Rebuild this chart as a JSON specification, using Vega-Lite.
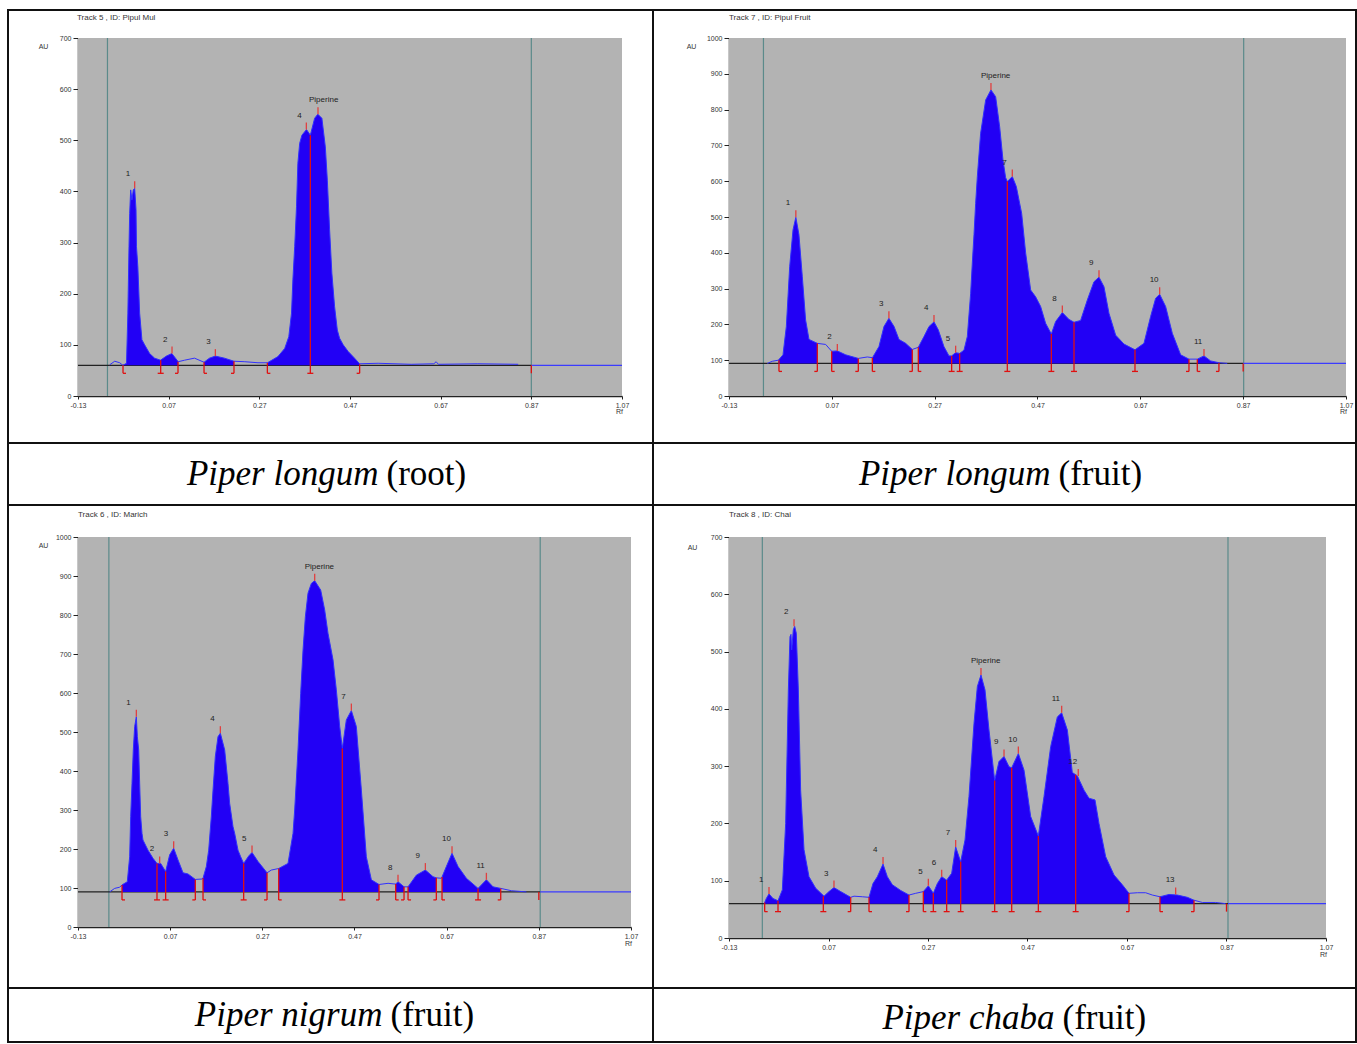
{
"$schema": "https://vega.github.io/schema/vega-lite/v6.json",
"background": "white",
"padding": {"left": 7, "top": 9, "right": 0, "bottom": 0},
"config": {"view": {"stroke": "#111", "strokeWidth": 2}, "font": "Liberation Sans"},
"datasets": {
"c1": [
{"rf":-0.060,"au":61},{"rf":-0.049,"au":68},{"rf":-0.038,"au":65},
{"rf":-0.031,"au":60,"seg":"A"},{"rf":-0.023,"au":64,"seg":"A"},{"rf":-0.020,"au":162,"seg":"A"},{"rf":-0.0175,"au":292,"seg":"A"},{"rf":-0.016,"au":357,"seg":"A"},{"rf":-0.0138,"au":403,"seg":"A"},{"rf":-0.011,"au":383,"seg":"A"},{"rf":-0.008,"au":403,"seg":"A"},{"rf":-0.005,"au":406,"seg":"A"},{"rf":-0.002,"au":364,"seg":"A"},{"rf":-0.001,"au":292,"seg":"A"},{"rf":0.002,"au":253,"seg":"A"},{"rf":0.006,"au":162,"seg":"A"},{"rf":0.011,"au":110,"seg":"A"},{"rf":0.017,"au":100,"seg":"A"},{"rf":0.028,"au":83,"seg":"A"},{"rf":0.039,"au":74,"seg":"A"},{"rf":0.052,"au":70,"seg":"A"},{"rf":0.065,"au":78,"seg":"A"},{"rf":0.077,"au":83,"seg":"A"},{"rf":0.085,"au":74,"seg":"A"},{"rf":0.091,"au":67,"seg":"A"},
{"rf":0.105,"au":70},{"rf":0.127,"au":74},
{"rf":0.148,"au":66,"seg":"B"},{"rf":0.160,"au":74,"seg":"B"},{"rf":0.173,"au":78,"seg":"B"},{"rf":0.193,"au":74,"seg":"B"},{"rf":0.214,"au":68,"seg":"B"},
{"rf":0.238,"au":67},{"rf":0.267,"au":65},
{"rf":0.288,"au":65,"seg":"C"},{"rf":0.311,"au":77,"seg":"C"},{"rf":0.326,"au":93,"seg":"C"},{"rf":0.335,"au":116,"seg":"C"},{"rf":0.341,"au":162,"seg":"C"},{"rf":0.344,"au":227,"seg":"C"},{"rf":0.348,"au":292,"seg":"C"},{"rf":0.352,"au":370,"seg":"C"},{"rf":0.355,"au":455,"seg":"C"},{"rf":0.359,"au":494,"seg":"C"},{"rf":0.364,"au":510,"seg":"C"},{"rf":0.374,"au":521,"seg":"C"},{"rf":0.3825,"au":510,"seg":"C"},{"rf":0.392,"au":543,"seg":"C"},{"rf":0.399,"au":551,"seg":"C"},{"rf":0.408,"au":543,"seg":"C"},{"rf":0.4156,"au":487,"seg":"C"},{"rf":0.420,"au":422,"seg":"C"},{"rf":0.425,"au":325,"seg":"C"},{"rf":0.430,"au":240,"seg":"C"},{"rf":0.436,"au":175,"seg":"C"},{"rf":0.442,"au":129,"seg":"C"},{"rf":0.447,"au":113,"seg":"C"},{"rf":0.455,"au":100,"seg":"C"},{"rf":0.466,"au":87,"seg":"C"},{"rf":0.480,"au":74,"seg":"C"},{"rf":0.491,"au":63,"seg":"C"},
{"rf":0.532,"au":64},{"rf":0.605,"au":62},{"rf":0.655,"au":63},{"rf":0.660,"au":67},{"rf":0.665,"au":62},{"rf":0.752,"au":63},{"rf":0.841,"au":62}
],
"b1": [
{"rf":-0.0307,"top":60,"k":"s"},{"rf":0.0524,"top":70,"k":"m"},{"rf":0.0906,"top":67,"k":"e"},{"rf":0.148,"top":66,"k":"s"},{"rf":0.2141,"top":68,"k":"e"},{"rf":0.2877,"top":65,"k":"s"},{"rf":0.3825,"top":510,"k":"m"},{"rf":0.4913,"top":62,"k":"e"},{"rf":0.87,"top":60,"k":"x"}
],
"p1": [
{"rf":-0.005,"top":406,"t":"1"},{"rf":0.0774,"top":83,"t":"2"},{"rf":0.173,"top":78,"t":"3"},{"rf":0.3737,"top":521,"t":"4"},{"rf":0.3994,"top":551,"t":"Piperine"}
],
"c2": [
{"rf":-0.0555,"au":91},{"rf":-0.0457,"au":97},
{"rf":-0.034,"au":100,"seg":"A"},{"rf":-0.025,"au":115,"seg":"A"},{"rf":-0.0185,"au":194,"seg":"A"},{"rf":-0.012,"au":361,"seg":"A"},{"rf":-0.0055,"au":464,"seg":"A"},{"rf":0.0,"au":499,"seg":"A"},{"rf":0.006,"au":451,"seg":"A"},{"rf":0.0126,"au":333,"seg":"A"},{"rf":0.019,"au":212,"seg":"A"},{"rf":0.0256,"au":158,"seg":"A"},{"rf":0.0418,"au":147,"seg":"A"},
{"rf":0.058,"au":144},
{"rf":0.0697,"au":125,"seg":"B"},{"rf":0.0807,"au":126,"seg":"B"},{"rf":0.0969,"au":115,"seg":"B"},{"rf":0.1215,"au":105,"seg":"B"},
{"rf":0.139,"au":109},
{"rf":0.149,"au":107,"seg":"C"},{"rf":0.1617,"au":138,"seg":"C"},{"rf":0.1714,"au":194,"seg":"C"},{"rf":0.181,"au":217,"seg":"C"},{"rf":0.191,"au":194,"seg":"C"},{"rf":0.2006,"au":158,"seg":"C"},{"rf":0.2136,"au":147,"seg":"C"},{"rf":0.2265,"au":130,"seg":"C"},
{"rf":0.2382,"au":136,"seg":"D"},{"rf":0.2492,"au":166,"seg":"D"},{"rf":0.259,"au":194,"seg":"D"},{"rf":0.2687,"au":207,"seg":"D"},{"rf":0.277,"au":185,"seg":"D"},{"rf":0.288,"au":138,"seg":"D"},{"rf":0.2979,"au":112,"seg":"D"},{"rf":0.303,"au":112,"seg":"D"},{"rf":0.3108,"au":121,"seg":"D"},{"rf":0.3186,"au":119,"seg":"D"},{"rf":0.327,"au":128,"seg":"D"},{"rf":0.3335,"au":166,"seg":"D"},{"rf":0.340,"au":287,"seg":"D"},{"rf":0.3432,"au":371,"seg":"D"},{"rf":0.3465,"au":451,"seg":"D"},{"rf":0.3497,"au":538,"seg":"D"},{"rf":0.353,"au":613,"seg":"D"},{"rf":0.3594,"au":734,"seg":"D"},{"rf":0.3692,"au":827,"seg":"D"},{"rf":0.3795,"au":855,"seg":"D"},{"rf":0.3886,"au":836,"seg":"D"},{"rf":0.3964,"au":752,"seg":"D"},{"rf":0.4029,"au":659,"seg":"D"},{"rf":0.408,"au":610,"seg":"D"},{"rf":0.4113,"au":599,"seg":"D"},{"rf":0.421,"au":613,"seg":"D"},{"rf":0.4288,"au":585,"seg":"D"},{"rf":0.4392,"au":510,"seg":"D"},{"rf":0.447,"au":399,"seg":"D"},{"rf":0.4567,"au":296,"seg":"D"},{"rf":0.4664,"au":277,"seg":"D"},{"rf":0.4761,"au":250,"seg":"D"},{"rf":0.4858,"au":203,"seg":"D"},{"rf":0.4969,"au":173,"seg":"D"},{"rf":0.5053,"au":208,"seg":"D"},{"rf":0.5183,"au":233,"seg":"D"},{"rf":0.5312,"au":214,"seg":"D"},{"rf":0.541,"au":206,"seg":"D"},{"rf":0.5539,"au":211,"seg":"D"},{"rf":0.5669,"au":268,"seg":"D"},{"rf":0.5798,"au":319,"seg":"D"},{"rf":0.5896,"au":332,"seg":"D"},{"rf":0.5993,"au":305,"seg":"D"},{"rf":0.609,"au":231,"seg":"D"},{"rf":0.622,"au":170,"seg":"D"},{"rf":0.6382,"au":145,"seg":"D"},{"rf":0.6596,"au":129,"seg":"D"},{"rf":0.6771,"au":147,"seg":"D"},{"rf":0.690,"au":222,"seg":"D"},{"rf":0.6998,"au":273,"seg":"D"},{"rf":0.7076,"au":284,"seg":"D"},{"rf":0.7192,"au":250,"seg":"D"},{"rf":0.7322,"au":175,"seg":"D"},{"rf":0.7484,"au":115,"seg":"D"},{"rf":0.7646,"au":103,"seg":"D"},
{"rf":0.7808,"au":103,"seg":"E"},{"rf":0.7938,"au":112,"seg":"E"},{"rf":0.8067,"au":98,"seg":"E"},{"rf":0.8229,"au":93,"seg":"E"},
{"rf":0.839,"au":91}
],
"b2": [
{"rf":-0.0328,"top":100,"k":"s"},{"rf":0.0418,"top":147,"k":"e"},{"rf":0.0697,"top":125,"k":"s"},{"rf":0.1215,"top":105,"k":"e"},{"rf":0.1488,"top":107,"k":"s"},{"rf":0.2265,"top":130,"k":"e"},{"rf":0.2382,"top":136,"k":"s"},{"rf":0.303,"top":112,"k":"m"},{"rf":0.3186,"top":119,"k":"m"},{"rf":0.4113,"top":599,"k":"m"},{"rf":0.4969,"top":173,"k":"m"},{"rf":0.541,"top":206,"k":"m"},{"rf":0.6596,"top":129,"k":"m"},{"rf":0.7646,"top":103,"k":"e"},{"rf":0.7808,"top":103,"k":"s"},{"rf":0.8229,"top":93,"k":"e"},{"rf":0.87,"top":91,"k":"x"}
],
"p2": [
{"rf":0.0,"top":499,"t":"1"},{"rf":0.0807,"top":126,"t":"2"},{"rf":0.181,"top":217,"t":"3"},{"rf":0.2687,"top":207,"t":"4"},{"rf":0.3108,"top":121,"t":"5"},{"rf":0.3795,"top":855,"t":"Piperine"},{"rf":0.421,"top":613,"t":"7"},{"rf":0.5183,"top":233,"t":"8"},{"rf":0.5896,"top":332,"t":"9"},{"rf":0.7076,"top":284,"t":"10"},{"rf":0.7938,"top":112,"t":"11"}
],
"c3": [
{"rf":-0.0613,"au":90},{"rf":-0.0504,"au":99},{"rf":-0.0396,"au":102},
{"rf":-0.0345,"au":108,"seg":"A"},{"rf":-0.023,"au":116,"seg":"A"},{"rf":-0.0179,"au":180,"seg":"A"},{"rf":-0.0157,"au":283,"seg":"A"},{"rf":-0.0128,"au":368,"seg":"A"},{"rf":-0.01,"au":454,"seg":"A"},{"rf":-0.007,"au":514,"seg":"A"},{"rf":-0.0034,"au":539,"seg":"A"},{"rf":-0.0012,"au":488,"seg":"A"},{"rf":0.0017,"au":454,"seg":"A"},{"rf":0.0038,"au":368,"seg":"A"},{"rf":0.006,"au":283,"seg":"A"},{"rf":0.0089,"au":240,"seg":"A"},{"rf":0.011,"au":223,"seg":"A"},{"rf":0.0219,"au":197,"seg":"A"},{"rf":0.0328,"au":176,"seg":"A"},{"rf":0.0414,"au":163,"seg":"A"},{"rf":0.0494,"au":163,"seg":"A"},{"rf":0.0602,"au":142,"seg":"A"},{"rf":0.0689,"au":185,"seg":"A"},{"rf":0.0776,"au":202,"seg":"A"},{"rf":0.087,"au":172,"seg":"A"},{"rf":0.0979,"au":139,"seg":"A"},{"rf":0.1087,"au":136,"seg":"A"},{"rf":0.1246,"au":122,"seg":"A"},
{"rf":0.1391,"au":123},
{"rf":0.1413,"au":125,"seg":"B"},{"rf":0.1485,"au":155,"seg":"B"},{"rf":0.1536,"au":197,"seg":"B"},{"rf":0.1593,"au":283,"seg":"B"},{"rf":0.163,"au":351,"seg":"B"},{"rf":0.168,"au":437,"seg":"B"},{"rf":0.1738,"au":488,"seg":"B"},{"rf":0.1789,"au":497,"seg":"B"},{"rf":0.1883,"au":454,"seg":"B"},{"rf":0.1955,"au":368,"seg":"B"},{"rf":0.1991,"au":317,"seg":"B"},{"rf":0.2064,"au":257,"seg":"B"},{"rf":0.21,"au":240,"seg":"B"},{"rf":0.2172,"au":197,"seg":"B"},{"rf":0.223,"au":180,"seg":"B"},{"rf":0.2295,"au":163,"seg":"B"},{"rf":0.2404,"au":182,"seg":"B"},{"rf":0.2476,"au":191,"seg":"B"},{"rf":0.2606,"au":168,"seg":"B"},{"rf":0.2802,"au":139,"seg":"B"},
{"rf":0.2896,"au":146},
{"rf":0.3055,"au":150,"seg":"C"},{"rf":0.3257,"au":163,"seg":"C"},{"rf":0.3366,"au":240,"seg":"C"},{"rf":0.3402,"au":300,"seg":"C"},{"rf":0.3474,"au":454,"seg":"C"},{"rf":0.3532,"au":599,"seg":"C"},{"rf":0.3583,"au":710,"seg":"C"},{"rf":0.3634,"au":796,"seg":"C"},{"rf":0.3691,"au":856,"seg":"C"},{"rf":0.3764,"au":881,"seg":"C"},{"rf":0.3836,"au":888,"seg":"C"},{"rf":0.3966,"au":864,"seg":"C"},{"rf":0.4053,"au":813,"seg":"C"},{"rf":0.4125,"au":753,"seg":"C"},{"rf":0.4234,"au":685,"seg":"C"},{"rf":0.4306,"au":608,"seg":"C"},{"rf":0.4379,"au":514,"seg":"C"},{"rf":0.4436,"au":458,"seg":"C"},{"rf":0.4523,"au":531,"seg":"C"},{"rf":0.4632,"au":555,"seg":"C"},{"rf":0.474,"au":514,"seg":"C"},{"rf":0.4849,"au":351,"seg":"C"},{"rf":0.4957,"au":180,"seg":"C"},{"rf":0.5066,"au":121,"seg":"C"},{"rf":0.5232,"au":109,"seg":"C"},
{"rf":0.5428,"au":112},
{"rf":0.5594,"au":110,"seg":"D"},{"rf":0.5644,"au":116,"seg":"D"},{"rf":0.5775,"au":103,"seg":"D"},
{"rf":0.5862,"au":103,"seg":"E"},{"rf":0.6042,"au":133,"seg":"E"},{"rf":0.6238,"au":146,"seg":"E"},{"rf":0.6404,"au":129,"seg":"E"},{"rf":0.6476,"au":126,"seg":"E"},
{"rf":0.6585,"au":125},
{"rf":0.6599,"au":128,"seg":"F"},{"rf":0.6693,"au":155,"seg":"F"},{"rf":0.6816,"au":189,"seg":"F"},{"rf":0.6947,"au":155,"seg":"F"},{"rf":0.7127,"au":125,"seg":"F"},{"rf":0.7381,"au":99,"seg":"F"},{"rf":0.7562,"au":121,"seg":"F"},{"rf":0.7706,"au":103,"seg":"F"},{"rf":0.7873,"au":99,"seg":"F"},
{"rf":0.8104,"au":93},{"rf":0.843,"au":90}
],
"b3": [
{"rf":-0.0345,"top":108,"k":"s"},{"rf":0.0414,"top":163,"k":"m"},{"rf":0.0602,"top":142,"k":"m"},{"rf":0.1246,"top":122,"k":"e"},{"rf":0.1413,"top":125,"k":"s"},{"rf":0.2295,"top":163,"k":"m"},{"rf":0.2802,"top":139,"k":"e"},{"rf":0.3055,"top":150,"k":"s"},{"rf":0.4436,"top":458,"k":"m"},{"rf":0.5232,"top":109,"k":"e"},{"rf":0.5594,"top":110,"k":"s"},{"rf":0.5775,"top":103,"k":"e"},{"rf":0.5862,"top":103,"k":"s"},{"rf":0.6476,"top":126,"k":"e"},{"rf":0.6599,"top":128,"k":"s"},{"rf":0.7381,"top":99,"k":"m"},{"rf":0.7873,"top":99,"k":"e"},{"rf":0.87,"top":90,"k":"x"}
],
"p3": [
{"rf":-0.0034,"top":539,"t":"1"},{"rf":0.0472,"top":163,"t":"2"},{"rf":0.0776,"top":202,"t":"3"},{"rf":0.1789,"top":497,"t":"4"},{"rf":0.2476,"top":191,"t":"5"},{"rf":0.3836,"top":888,"t":"Piperine"},{"rf":0.4632,"top":555,"t":"7"},{"rf":0.5644,"top":116,"t":"8"},{"rf":0.6238,"top":146,"t":"9"},{"rf":0.6816,"top":189,"t":"10"},{"rf":0.7562,"top":121,"t":"11"}
],
"c4": [
{"rf":-0.0596,"au":60},
{"rf":-0.0583,"au":62,"seg":"A"},{"rf":-0.055,"au":69,"seg":"A"},{"rf":-0.0496,"au":77,"seg":"A"},{"rf":-0.0416,"au":69,"seg":"A"},{"rf":-0.0315,"au":65,"seg":"A"},{"rf":-0.0228,"au":84,"seg":"A"},{"rf":-0.0161,"au":200,"seg":"A"},{"rf":-0.0107,"au":433,"seg":"A"},{"rf":-0.0074,"au":526,"seg":"A"},{"rf":-0.0054,"au":530,"seg":"A"},{"rf":-0.004,"au":503,"seg":"A"},{"rf":-0.0007,"au":538,"seg":"A"},{"rf":0.002,"au":544,"seg":"A"},{"rf":0.0053,"au":532,"seg":"A"},{"rf":0.0094,"au":433,"seg":"A"},{"rf":0.014,"au":258,"seg":"A"},{"rf":0.0208,"au":154,"seg":"A"},{"rf":0.0308,"au":107,"seg":"A"},{"rf":0.0442,"au":87,"seg":"A"},{"rf":0.061,"au":73,"seg":"A"},{"rf":0.071,"au":81,"seg":"A"},{"rf":0.081,"au":88,"seg":"A"},{"rf":0.0945,"au":81,"seg":"A"},{"rf":0.1146,"au":71,"seg":"A"},
{"rf":0.1213,"au":73},{"rf":0.138,"au":72},
{"rf":0.1514,"au":71,"seg":"B"},{"rf":0.1594,"au":95,"seg":"B"},{"rf":0.1682,"au":107,"seg":"B"},{"rf":0.1796,"au":129,"seg":"B"},{"rf":0.1883,"au":107,"seg":"B"},{"rf":0.1983,"au":93,"seg":"B"},{"rf":0.2151,"au":83,"seg":"B"},{"rf":0.2318,"au":75,"seg":"B"},
{"rf":0.2452,"au":78},
{"rf":0.2606,"au":81,"seg":"C"},{"rf":0.2707,"au":91,"seg":"C"},{"rf":0.2807,"au":78,"seg":"C"},{"rf":0.2888,"au":95,"seg":"C"},{"rf":0.2975,"au":107,"seg":"C"},{"rf":0.3075,"au":101,"seg":"C"},{"rf":0.3176,"au":113,"seg":"C"},{"rf":0.3256,"au":159,"seg":"C"},{"rf":0.3357,"au":133,"seg":"C"},{"rf":0.3444,"au":171,"seg":"C"},{"rf":0.3524,"au":247,"seg":"C"},{"rf":0.3625,"au":375,"seg":"C"},{"rf":0.3692,"au":439,"seg":"C"},{"rf":0.3765,"au":459,"seg":"C"},{"rf":0.3846,"au":433,"seg":"C"},{"rf":0.3926,"au":363,"seg":"C"},{"rf":0.404,"au":275,"seg":"C"},{"rf":0.4127,"au":308,"seg":"C"},{"rf":0.4228,"au":317,"seg":"C"},{"rf":0.4328,"au":299,"seg":"C"},{"rf":0.4382,"au":297,"seg":"C"},{"rf":0.4516,"au":322,"seg":"C"},{"rf":0.463,"au":293,"seg":"C"},{"rf":0.4764,"au":212,"seg":"C"},{"rf":0.4918,"au":178,"seg":"C"},{"rf":0.5032,"au":247,"seg":"C"},{"rf":0.5166,"au":334,"seg":"C"},{"rf":0.53,"au":386,"seg":"C"},{"rf":0.5387,"au":393,"seg":"C"},{"rf":0.5501,"au":363,"seg":"C"},{"rf":0.5601,"au":289,"seg":"C"},{"rf":0.5702,"au":283,"seg":"C"},{"rf":0.5836,"au":258,"seg":"C"},{"rf":0.5936,"au":244,"seg":"C"},{"rf":0.6057,"au":241,"seg":"C"},{"rf":0.6137,"au":200,"seg":"C"},{"rf":0.6271,"au":142,"seg":"C"},{"rf":0.6439,"au":110,"seg":"C"},{"rf":0.6606,"au":93,"seg":"C"},{"rf":0.674,"au":78,"seg":"C"},
{"rf":0.6908,"au":79},{"rf":0.7075,"au":79},{"rf":0.7209,"au":75},
{"rf":0.7363,"au":72,"seg":"D"},{"rf":0.7544,"au":76,"seg":"D"},{"rf":0.7712,"au":75,"seg":"D"},{"rf":0.7913,"au":71,"seg":"D"},{"rf":0.8047,"au":66,"seg":"D"},
{"rf":0.8214,"au":62},{"rf":0.8482,"au":62},{"rf":0.8683,"au":60}
],
"b4": [
{"rf":-0.0583,"top":62,"k":"s"},{"rf":-0.0315,"top":65,"k":"m"},{"rf":0.0596,"top":73,"k":"m"},{"rf":0.1146,"top":71,"k":"e"},{"rf":0.1514,"top":71,"k":"s"},{"rf":0.2318,"top":75,"k":"e"},{"rf":0.2606,"top":81,"k":"s"},{"rf":0.2807,"top":78,"k":"m"},{"rf":0.3075,"top":101,"k":"m"},{"rf":0.3357,"top":133,"k":"m"},{"rf":0.404,"top":275,"k":"m"},{"rf":0.4382,"top":297,"k":"m"},{"rf":0.4918,"top":178,"k":"m"},{"rf":0.5668,"top":285,"k":"m"},{"rf":0.674,"top":78,"k":"e"},{"rf":0.7363,"top":72,"k":"s"},{"rf":0.8047,"top":66,"k":"e"},{"rf":0.87,"top":60,"k":"x"}
],
"p4": [
{"rf":-0.0496,"top":77,"t":"1"},{"rf":0.0007,"top":544,"t":"2"},{"rf":0.081,"top":88,"t":"3"},{"rf":0.1796,"top":129,"t":"4"},{"rf":0.2707,"top":91,"t":"5"},{"rf":0.2975,"top":107,"t":"6"},{"rf":0.3256,"top":159,"t":"7"},{"rf":0.3765,"top":459,"t":"Piperine"},{"rf":0.4228,"top":317,"t":"9"},{"rf":0.4516,"top":322,"t":"10"},{"rf":0.5387,"top":393,"t":"11"},{"rf":0.572,"top":283,"t":"12"},{"rf":0.7678,"top":76,"t":"13"}
]
},
"columns": 2,
"spacing": 0,
"bounds": "flush",
"concat": [
{"width": 645, "height": 433, "layer": [
{"data": {"values": [{}]}, "mark": {"type": "rect", "color": "#b3b3b3"}, "encoding": {
 "x": {"datum": -0.13, "type": "quantitative", "scale": {"domain": [-0.13, 1.07], "range": [70, 614], "nice": false, "zero": false}, "axis": {"values": [-0.13, 0.07, 0.27, 0.47, 0.67, 0.87, 1.07], "labelExpr": "datum.value < 0 ? '-0.13' : format(datum.value, '.2f')", "title": "Rf", "titleX": 611, "titleY": 15, "titleAlign": "center", "titleBaseline": "middle", "titleFontSize": 7, "titleFontWeight": "normal", "titleColor": "#333", "offset": -47, "tickSize": 3, "labelFontSize": 7, "labelColor": "#333", "labelPadding": 2, "labelFlush": false, "labelOverlap": false, "domainColor": "#222", "domainWidth": 1.5, "tickColor": "#222", "grid": false}},
 "x2": {"datum": 1.07},
 "y": {"datum": 0, "type": "quantitative", "scale": {"domain": [0, 700], "range": [386, 28], "nice": false, "zero": false}, "axis": {"values": [0, 100, 200, 300, 400, 500, 600, 700], "format": "d", "title": "AU", "titleAngle": 0, "titleX": -35, "titleY": 36, "titleAlign": "center", "titleBaseline": "middle", "titleFontSize": 7, "titleFontWeight": "normal", "titleColor": "#333", "offset": -70, "tickSize": 5, "labelFontSize": 7, "labelColor": "#333", "labelPadding": 2, "labelFlush": false, "labelOverlap": false, "domainColor": "#222", "domainWidth": 1.5, "tickColor": "#222", "grid": false}},
 "y2": {"datum": 700}}},
{"data": {"values": [{"g": -0.065}, {"g": 0.87}]}, "mark": {"type": "rule", "color": "#5b8a8a", "strokeWidth": 1.2}, "encoding": {"x": {"field": "g", "type": "quantitative"}, "y": {"datum": 0}, "y2": {"datum": 700}}},
{"data": {"values": [{}]}, "mark": {"type": "rule", "color": "#222", "strokeWidth": 1.2}, "encoding": {"x": {"datum": -0.13}, "x2": {"datum": 0.87}, "y": {"datum": 60}}},
{"data": {"values": [{}]}, "mark": {"type": "rule", "color": "#3b3bff", "strokeWidth": 1.2}, "encoding": {"x": {"datum": 0.87}, "x2": {"datum": 1.07}, "y": {"datum": 60}}},
{"data": {"name": "c1"}, "transform": [{"filter": "datum.seg"}], "mark": {"type": "area", "color": "#2200f5", "opacity": 1}, "encoding": {"x": {"field": "rf", "type": "quantitative"}, "y": {"field": "au", "type": "quantitative"}, "y2": {"datum": 60}, "detail": {"field": "seg"}}},
{"data": {"name": "c1"}, "mark": {"type": "line", "color": "#3030ff", "strokeWidth": 1}, "encoding": {"x": {"field": "rf", "type": "quantitative"}, "y": {"field": "au", "type": "quantitative"}}},
{"data": {"name": "b1"}, "mark": {"type": "rule", "color": "#e01010", "strokeWidth": 1.3}, "encoding": {"x": {"field": "rf", "type": "quantitative"}, "y": {"field": "top", "type": "quantitative"}, "y2": {"datum": 60}}},
{"data": {"name": "b1"}, "mark": {"type": "rule", "color": "#e01010", "strokeWidth": 1.3, "y2Offset": 8}, "encoding": {"x": {"field": "rf", "type": "quantitative"}, "y": {"datum": 60}, "y2": {"datum": 60}}},
{"data": {"name": "b1"}, "transform": [{"filter": "datum.k == 's'"}], "mark": {"type": "rule", "color": "#e01010", "strokeWidth": 1.3, "yOffset": 8, "x2Offset": 3}, "encoding": {"x": {"field": "rf", "type": "quantitative"}, "x2": {"field": "rf"}, "y": {"datum": 60}}},
{"data": {"name": "b1"}, "transform": [{"filter": "datum.k == 'e'"}], "mark": {"type": "rule", "color": "#e01010", "strokeWidth": 1.3, "yOffset": 8, "xOffset": -3}, "encoding": {"x": {"field": "rf", "type": "quantitative"}, "x2": {"field": "rf"}, "y": {"datum": 60}}},
{"data": {"name": "b1"}, "transform": [{"filter": "datum.k == 'm'"}], "mark": {"type": "rule", "color": "#e01010", "strokeWidth": 1.3, "yOffset": 8, "xOffset": -3, "x2Offset": 3}, "encoding": {"x": {"field": "rf", "type": "quantitative"}, "x2": {"field": "rf"}, "y": {"datum": 60}}},
{"data": {"name": "p1"}, "mark": {"type": "rule", "color": "#e04040", "strokeWidth": 1.3, "yOffset": -7}, "encoding": {"x": {"field": "rf", "type": "quantitative"}, "y": {"field": "top", "type": "quantitative"}, "y2": {"field": "top"}}},
{"data": {"name": "p1"}, "mark": {"type": "text", "align": "left", "baseline": "middle", "dx": -9, "dy": -14, "fontSize": 8, "color": "#222"}, "encoding": {"x": {"field": "rf", "type": "quantitative"}, "y": {"field": "top", "type": "quantitative"}, "text": {"field": "t"}}},
{"data": {"values": [{"t": "Track  5 , ID: Pipul Mul"}]}, "mark": {"type": "text", "align": "left", "baseline": "middle", "dx": -1, "fontSize": 8, "color": "#333"}, "encoding": {"x": {"datum": -0.13}, "y": {"datum": 739}, "text": {"field": "t"}}}
]},
{"width": 703, "height": 433, "layer": [
{"data": {"values": [{}]}, "mark": {"type": "rect", "color": "#b3b3b3"}, "encoding": {
 "x": {"datum": -0.13, "type": "quantitative", "scale": {"domain": [-0.13, 1.07], "range": [76, 693], "nice": false, "zero": false}, "axis": {"values": [-0.13, 0.07, 0.27, 0.47, 0.67, 0.87, 1.07], "labelExpr": "datum.value < 0 ? '-0.13' : format(datum.value, '.2f')", "title": "Rf", "titleX": 690, "titleY": 15, "titleAlign": "center", "titleBaseline": "middle", "titleFontSize": 7, "titleFontWeight": "normal", "titleColor": "#333", "offset": -47, "tickSize": 3, "labelFontSize": 7, "labelColor": "#333", "labelPadding": 2, "labelFlush": false, "labelOverlap": false, "domainColor": "#222", "domainWidth": 1.5, "tickColor": "#222", "grid": false}},
 "x2": {"datum": 1.07},
 "y": {"datum": 0, "type": "quantitative", "scale": {"domain": [0, 1000], "range": [386, 28], "nice": false, "zero": false}, "axis": {"values": [0, 100, 200, 300, 400, 500, 600, 700, 800, 900, 1000], "format": "d", "title": "AU", "titleAngle": 0, "titleX": -38, "titleY": 36, "titleAlign": "center", "titleBaseline": "middle", "titleFontSize": 7, "titleFontWeight": "normal", "titleColor": "#333", "offset": -76, "tickSize": 5, "labelFontSize": 7, "labelColor": "#333", "labelPadding": 2, "labelFlush": false, "labelOverlap": false, "domainColor": "#222", "domainWidth": 1.5, "tickColor": "#222", "grid": false}},
 "y2": {"datum": 1000}}},
{"data": {"values": [{"g": -0.063}, {"g": 0.871}]}, "mark": {"type": "rule", "color": "#5b8a8a", "strokeWidth": 1.2}, "encoding": {"x": {"field": "g", "type": "quantitative"}, "y": {"datum": 0}, "y2": {"datum": 1000}}},
{"data": {"values": [{}]}, "mark": {"type": "rule", "color": "#222", "strokeWidth": 1.2}, "encoding": {"x": {"datum": -0.13}, "x2": {"datum": 0.87}, "y": {"datum": 91}}},
{"data": {"values": [{}]}, "mark": {"type": "rule", "color": "#3b3bff", "strokeWidth": 1.2}, "encoding": {"x": {"datum": 0.87}, "x2": {"datum": 1.07}, "y": {"datum": 91}}},
{"data": {"name": "c2"}, "transform": [{"filter": "datum.seg"}], "mark": {"type": "area", "color": "#2200f5", "opacity": 1}, "encoding": {"x": {"field": "rf", "type": "quantitative"}, "y": {"field": "au", "type": "quantitative"}, "y2": {"datum": 91}, "detail": {"field": "seg"}}},
{"data": {"name": "c2"}, "mark": {"type": "line", "color": "#3030ff", "strokeWidth": 1}, "encoding": {"x": {"field": "rf", "type": "quantitative"}, "y": {"field": "au", "type": "quantitative"}}},
{"data": {"name": "b2"}, "mark": {"type": "rule", "color": "#e01010", "strokeWidth": 1.3}, "encoding": {"x": {"field": "rf", "type": "quantitative"}, "y": {"field": "top", "type": "quantitative"}, "y2": {"datum": 91}}},
{"data": {"name": "b2"}, "mark": {"type": "rule", "color": "#e01010", "strokeWidth": 1.3, "y2Offset": 8}, "encoding": {"x": {"field": "rf", "type": "quantitative"}, "y": {"datum": 91}, "y2": {"datum": 91}}},
{"data": {"name": "b2"}, "transform": [{"filter": "datum.k == 's'"}], "mark": {"type": "rule", "color": "#e01010", "strokeWidth": 1.3, "yOffset": 8, "x2Offset": 3}, "encoding": {"x": {"field": "rf", "type": "quantitative"}, "x2": {"field": "rf"}, "y": {"datum": 91}}},
{"data": {"name": "b2"}, "transform": [{"filter": "datum.k == 'e'"}], "mark": {"type": "rule", "color": "#e01010", "strokeWidth": 1.3, "yOffset": 8, "xOffset": -3}, "encoding": {"x": {"field": "rf", "type": "quantitative"}, "x2": {"field": "rf"}, "y": {"datum": 91}}},
{"data": {"name": "b2"}, "transform": [{"filter": "datum.k == 'm'"}], "mark": {"type": "rule", "color": "#e01010", "strokeWidth": 1.3, "yOffset": 8, "xOffset": -3, "x2Offset": 3}, "encoding": {"x": {"field": "rf", "type": "quantitative"}, "x2": {"field": "rf"}, "y": {"datum": 91}}},
{"data": {"name": "p2"}, "mark": {"type": "rule", "color": "#e04040", "strokeWidth": 1.3, "yOffset": -7}, "encoding": {"x": {"field": "rf", "type": "quantitative"}, "y": {"field": "top", "type": "quantitative"}, "y2": {"field": "top"}}},
{"data": {"name": "p2"}, "mark": {"type": "text", "align": "left", "baseline": "middle", "dx": -10, "dy": -14, "fontSize": 8, "color": "#222"}, "encoding": {"x": {"field": "rf", "type": "quantitative"}, "y": {"field": "top", "type": "quantitative"}, "text": {"field": "t"}}},
{"data": {"values": [{"t": "Track  7 , ID: Pipul Fruit"}]}, "mark": {"type": "text", "align": "left", "baseline": "middle", "fontSize": 8, "color": "#333"}, "encoding": {"x": {"datum": -0.13}, "y": {"datum": 1056}, "text": {"field": "t"}}}
]},
{"width": 645, "height": 62, "data": {"values": [{"it": "Piper longum", "rm": "(root)"}]}, "layer": [
{"mark": {"type": "text", "align": "right", "baseline": "middle", "dx": 48, "font": "Liberation Serif", "fontSize": 35, "fontStyle": "italic", "color": "#000"}, "encoding": {"x": {"datum": 0.5, "type": "quantitative", "scale": {"domain": [0, 1]}, "axis": null}, "y": {"datum": 0.5, "type": "quantitative", "scale": {"domain": [0, 1]}, "axis": null}, "text": {"field": "it"}}},
{"mark": {"type": "text", "align": "left", "baseline": "middle", "dx": 56, "font": "Liberation Serif", "fontSize": 35, "color": "#000"}, "encoding": {"x": {"datum": 0.5, "type": "quantitative"}, "y": {"datum": 0.5, "type": "quantitative"}, "text": {"field": "rm"}}}
]},
{"width": 703, "height": 62, "data": {"values": [{"it": "Piper longum", "rm": "(fruit)"}]}, "layer": [
{"mark": {"type": "text", "align": "right", "baseline": "middle", "dx": 46, "font": "Liberation Serif", "fontSize": 35, "fontStyle": "italic", "color": "#000"}, "encoding": {"x": {"datum": 0.5, "type": "quantitative", "scale": {"domain": [0, 1]}, "axis": null}, "y": {"datum": 0.5, "type": "quantitative", "scale": {"domain": [0, 1]}, "axis": null}, "text": {"field": "it"}}},
{"mark": {"type": "text", "align": "left", "baseline": "middle", "dx": 54, "font": "Liberation Serif", "fontSize": 35, "color": "#000"}, "encoding": {"x": {"datum": 0.5, "type": "quantitative"}, "y": {"datum": 0.5, "type": "quantitative"}, "text": {"field": "rm"}}}
]},
{"width": 645, "height": 483, "layer": [
{"data": {"values": [{}]}, "mark": {"type": "rect", "color": "#b3b3b3"}, "encoding": {
 "x": {"datum": -0.13, "type": "quantitative", "scale": {"domain": [-0.13, 1.07], "range": [70, 623], "nice": false, "zero": false}, "axis": {"values": [-0.13, 0.07, 0.27, 0.47, 0.67, 0.87, 1.07], "labelExpr": "datum.value < 0 ? '-0.13' : format(datum.value, '.2f')", "title": "Rf", "titleX": 620, "titleY": 16, "titleAlign": "center", "titleBaseline": "middle", "titleFontSize": 7, "titleFontWeight": "normal", "titleColor": "#333", "offset": -61, "tickSize": 3, "labelFontSize": 7, "labelColor": "#333", "labelPadding": 2, "labelFlush": false, "labelOverlap": false, "domainColor": "#222", "domainWidth": 1.5, "tickColor": "#222", "grid": false}},
 "x2": {"datum": 1.07},
 "y": {"datum": 0, "type": "quantitative", "scale": {"domain": [0, 1000], "range": [422, 32], "nice": false, "zero": false}, "axis": {"values": [0, 100, 200, 300, 400, 500, 600, 700, 800, 900, 1000], "format": "d", "title": "AU", "titleAngle": 0, "titleX": -35, "titleY": 40, "titleAlign": "center", "titleBaseline": "middle", "titleFontSize": 7, "titleFontWeight": "normal", "titleColor": "#333", "offset": -70, "tickSize": 5, "labelFontSize": 7, "labelColor": "#333", "labelPadding": 2, "labelFlush": false, "labelOverlap": false, "domainColor": "#222", "domainWidth": 1.5, "tickColor": "#222", "grid": false}},
 "y2": {"datum": 1000}}},
{"data": {"values": [{"g": -0.063}, {"g": 0.873}]}, "mark": {"type": "rule", "color": "#5b8a8a", "strokeWidth": 1.2}, "encoding": {"x": {"field": "g", "type": "quantitative"}, "y": {"datum": 0}, "y2": {"datum": 1000}}},
{"data": {"values": [{}]}, "mark": {"type": "rule", "color": "#222", "strokeWidth": 1.2}, "encoding": {"x": {"datum": -0.13}, "x2": {"datum": 0.873}, "y": {"datum": 90}}},
{"data": {"values": [{}]}, "mark": {"type": "rule", "color": "#3b3bff", "strokeWidth": 1.2}, "encoding": {"x": {"datum": 0.873}, "x2": {"datum": 1.07}, "y": {"datum": 90}}},
{"data": {"name": "c3"}, "transform": [{"filter": "datum.seg"}], "mark": {"type": "area", "color": "#2200f5", "opacity": 1}, "encoding": {"x": {"field": "rf", "type": "quantitative"}, "y": {"field": "au", "type": "quantitative"}, "y2": {"datum": 90}, "detail": {"field": "seg"}}},
{"data": {"name": "c3"}, "mark": {"type": "line", "color": "#3030ff", "strokeWidth": 1}, "encoding": {"x": {"field": "rf", "type": "quantitative"}, "y": {"field": "au", "type": "quantitative"}}},
{"data": {"name": "b3"}, "mark": {"type": "rule", "color": "#e01010", "strokeWidth": 1.3}, "encoding": {"x": {"field": "rf", "type": "quantitative"}, "y": {"field": "top", "type": "quantitative"}, "y2": {"datum": 90}}},
{"data": {"name": "b3"}, "mark": {"type": "rule", "color": "#e01010", "strokeWidth": 1.3, "y2Offset": 8}, "encoding": {"x": {"field": "rf", "type": "quantitative"}, "y": {"datum": 90}, "y2": {"datum": 90}}},
{"data": {"name": "b3"}, "transform": [{"filter": "datum.k == 's'"}], "mark": {"type": "rule", "color": "#e01010", "strokeWidth": 1.3, "yOffset": 8, "x2Offset": 3}, "encoding": {"x": {"field": "rf", "type": "quantitative"}, "x2": {"field": "rf"}, "y": {"datum": 90}}},
{"data": {"name": "b3"}, "transform": [{"filter": "datum.k == 'e'"}], "mark": {"type": "rule", "color": "#e01010", "strokeWidth": 1.3, "yOffset": 8, "xOffset": -3}, "encoding": {"x": {"field": "rf", "type": "quantitative"}, "x2": {"field": "rf"}, "y": {"datum": 90}}},
{"data": {"name": "b3"}, "transform": [{"filter": "datum.k == 'm'"}], "mark": {"type": "rule", "color": "#e01010", "strokeWidth": 1.3, "yOffset": 8, "xOffset": -3, "x2Offset": 3}, "encoding": {"x": {"field": "rf", "type": "quantitative"}, "x2": {"field": "rf"}, "y": {"datum": 90}}},
{"data": {"name": "p3"}, "mark": {"type": "rule", "color": "#e04040", "strokeWidth": 1.3, "yOffset": -7}, "encoding": {"x": {"field": "rf", "type": "quantitative"}, "y": {"field": "top", "type": "quantitative"}, "y2": {"field": "top"}}},
{"data": {"name": "p3"}, "mark": {"type": "text", "align": "left", "baseline": "middle", "dx": -10, "dy": -14, "fontSize": 8, "color": "#222"}, "encoding": {"x": {"field": "rf", "type": "quantitative"}, "y": {"field": "top", "type": "quantitative"}, "text": {"field": "t"}}},
{"data": {"values": [{"t": "Track  6 , ID: Marich"}]}, "mark": {"type": "text", "align": "left", "baseline": "middle", "fontSize": 8, "color": "#333"}, "encoding": {"x": {"datum": -0.13}, "y": {"datum": 1056}, "text": {"field": "t"}}}
]},
{"width": 703, "height": 483, "layer": [
{"data": {"values": [{}]}, "mark": {"type": "rect", "color": "#b3b3b3"}, "encoding": {
 "x": {"datum": -0.13, "type": "quantitative", "scale": {"domain": [-0.13, 1.07], "range": [76, 673], "nice": false, "zero": false}, "axis": {"values": [-0.13, 0.07, 0.27, 0.47, 0.67, 0.87, 1.07], "labelExpr": "datum.value < 0 ? '-0.13' : format(datum.value, '.2f')", "title": "Rf", "titleX": 670, "titleY": 16, "titleAlign": "center", "titleBaseline": "middle", "titleFontSize": 7, "titleFontWeight": "normal", "titleColor": "#333", "offset": -50, "tickSize": 3, "labelFontSize": 7, "labelColor": "#333", "labelPadding": 2, "labelFlush": false, "labelOverlap": false, "domainColor": "#222", "domainWidth": 1.5, "tickColor": "#222", "grid": false}},
 "x2": {"datum": 1.07},
 "y": {"datum": 0, "type": "quantitative", "scale": {"domain": [0, 700], "range": [433, 32], "nice": false, "zero": false}, "axis": {"values": [0, 100, 200, 300, 400, 500, 600, 700], "format": "d", "title": "AU", "titleAngle": 0, "titleX": -37, "titleY": 42, "titleAlign": "center", "titleBaseline": "middle", "titleFontSize": 7, "titleFontWeight": "normal", "titleColor": "#333", "offset": -76, "tickSize": 5, "labelFontSize": 7, "labelColor": "#333", "labelPadding": 2, "labelFlush": false, "labelOverlap": false, "domainColor": "#222", "domainWidth": 1.5, "tickColor": "#222", "grid": false}},
 "y2": {"datum": 700}}},
{"data": {"values": [{"g": -0.063}, {"g": 0.873}]}, "mark": {"type": "rule", "color": "#5b8a8a", "strokeWidth": 1.2}, "encoding": {"x": {"field": "g", "type": "quantitative"}, "y": {"datum": 0}, "y2": {"datum": 700}}},
{"data": {"values": [{}]}, "mark": {"type": "rule", "color": "#222", "strokeWidth": 1.2}, "encoding": {"x": {"datum": -0.13}, "x2": {"datum": 0.873}, "y": {"datum": 60}}},
{"data": {"values": [{}]}, "mark": {"type": "rule", "color": "#3b3bff", "strokeWidth": 1.2}, "encoding": {"x": {"datum": 0.873}, "x2": {"datum": 1.07}, "y": {"datum": 60}}},
{"data": {"name": "c4"}, "transform": [{"filter": "datum.seg"}], "mark": {"type": "area", "color": "#2200f5", "opacity": 1}, "encoding": {"x": {"field": "rf", "type": "quantitative"}, "y": {"field": "au", "type": "quantitative"}, "y2": {"datum": 60}, "detail": {"field": "seg"}}},
{"data": {"name": "c4"}, "mark": {"type": "line", "color": "#3030ff", "strokeWidth": 1}, "encoding": {"x": {"field": "rf", "type": "quantitative"}, "y": {"field": "au", "type": "quantitative"}}},
{"data": {"name": "b4"}, "mark": {"type": "rule", "color": "#e01010", "strokeWidth": 1.3}, "encoding": {"x": {"field": "rf", "type": "quantitative"}, "y": {"field": "top", "type": "quantitative"}, "y2": {"datum": 60}}},
{"data": {"name": "b4"}, "mark": {"type": "rule", "color": "#e01010", "strokeWidth": 1.3, "y2Offset": 8}, "encoding": {"x": {"field": "rf", "type": "quantitative"}, "y": {"datum": 60}, "y2": {"datum": 60}}},
{"data": {"name": "b4"}, "transform": [{"filter": "datum.k == 's'"}], "mark": {"type": "rule", "color": "#e01010", "strokeWidth": 1.3, "yOffset": 8, "x2Offset": 3}, "encoding": {"x": {"field": "rf", "type": "quantitative"}, "x2": {"field": "rf"}, "y": {"datum": 60}}},
{"data": {"name": "b4"}, "transform": [{"filter": "datum.k == 'e'"}], "mark": {"type": "rule", "color": "#e01010", "strokeWidth": 1.3, "yOffset": 8, "xOffset": -3}, "encoding": {"x": {"field": "rf", "type": "quantitative"}, "x2": {"field": "rf"}, "y": {"datum": 60}}},
{"data": {"name": "b4"}, "transform": [{"filter": "datum.k == 'm'"}], "mark": {"type": "rule", "color": "#e01010", "strokeWidth": 1.3, "yOffset": 8, "xOffset": -3, "x2Offset": 3}, "encoding": {"x": {"field": "rf", "type": "quantitative"}, "x2": {"field": "rf"}, "y": {"datum": 60}}},
{"data": {"name": "p4"}, "mark": {"type": "rule", "color": "#e04040", "strokeWidth": 1.3, "yOffset": -7}, "encoding": {"x": {"field": "rf", "type": "quantitative"}, "y": {"field": "top", "type": "quantitative"}, "y2": {"field": "top"}}},
{"data": {"name": "p4"}, "mark": {"type": "text", "align": "left", "baseline": "middle", "dx": -10, "dy": -14, "fontSize": 8, "color": "#222"}, "encoding": {"x": {"field": "rf", "type": "quantitative"}, "y": {"field": "top", "type": "quantitative"}, "text": {"field": "t"}}},
{"data": {"values": [{"t": "Track  8 , ID: Chai"}]}, "mark": {"type": "text", "align": "left", "baseline": "middle", "fontSize": 8, "color": "#333"}, "encoding": {"x": {"datum": -0.13}, "y": {"datum": 738}, "text": {"field": "t"}}}
]},
{"width": 645, "height": 54, "data": {"values": [{"it": "Piper nigrum", "rm": "(fruit)"}]}, "layer": [
{"mark": {"type": "text", "align": "right", "baseline": "middle", "dx": 52, "font": "Liberation Serif", "fontSize": 35, "fontStyle": "italic", "color": "#000"}, "encoding": {"x": {"datum": 0.5, "type": "quantitative", "scale": {"domain": [0, 1]}, "axis": null}, "y": {"datum": 0.5, "type": "quantitative", "scale": {"domain": [0, 1]}, "axis": null}, "text": {"field": "it"}}},
{"mark": {"type": "text", "align": "left", "baseline": "middle", "dx": 60, "font": "Liberation Serif", "fontSize": 35, "color": "#000"}, "encoding": {"x": {"datum": 0.5, "type": "quantitative"}, "y": {"datum": 0.5, "type": "quantitative"}, "text": {"field": "rm"}}}
]},
{"width": 703, "height": 54, "data": {"values": [{"it": "Piper chaba", "rm": "(fruit)"}]}, "layer": [
{"mark": {"type": "text", "align": "right", "baseline": "middle", "dx": 50, "dy": 3, "font": "Liberation Serif", "fontSize": 35, "fontStyle": "italic", "color": "#000"}, "encoding": {"x": {"datum": 0.5, "type": "quantitative", "scale": {"domain": [0, 1]}, "axis": null}, "y": {"datum": 0.5, "type": "quantitative", "scale": {"domain": [0, 1]}, "axis": null}, "text": {"field": "it"}}},
{"mark": {"type": "text", "align": "left", "baseline": "middle", "dx": 58, "dy": 3, "font": "Liberation Serif", "fontSize": 35, "color": "#000"}, "encoding": {"x": {"datum": 0.5, "type": "quantitative"}, "y": {"datum": 0.5, "type": "quantitative"}, "text": {"field": "rm"}}}
]}
]
}
